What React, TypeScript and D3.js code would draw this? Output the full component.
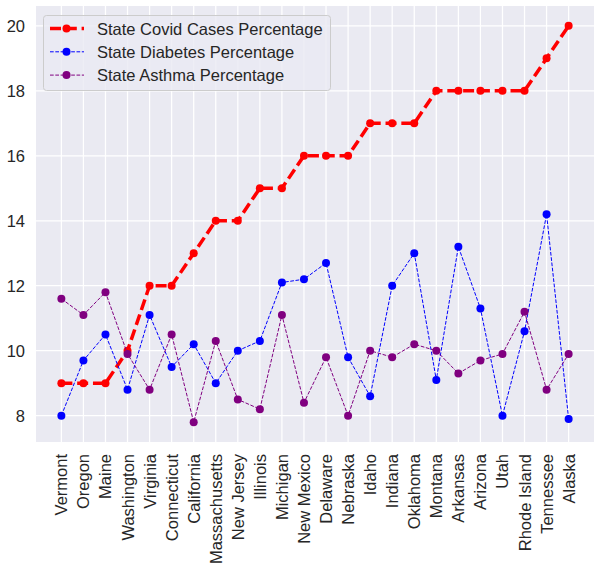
import React, { useEffect, useRef } from "react";
import * as d3 from "d3";

const states = [
  "Vermont", "Oregon", "Maine", "Washington", "Virginia", "Connecticut",
  "California", "Massachusetts", "New Jersey", "Illinois", "Michigan",
  "New Mexico", "Delaware", "Nebraska", "Idaho", "Indiana", "Oklahoma",
  "Montana", "Arkansas", "Arizona", "Utah", "Rhode Island", "Tennessee", "Alaska",
];

const covid = [9, 9, 9, 10, 12, 12, 13, 14, 14, 15, 15, 16, 16, 16, 17, 17, 17, 18, 18, 18, 18, 18, 19, 20];
const diabetes = [8.0, 9.7, 10.5, 8.8, 11.1, 9.5, 10.2, 9.0, 10.0, 10.3, 12.1, 12.2, 12.7, 9.8, 8.6, 12.0, 13.0, 9.1, 13.2, 11.3, 8.0, 10.6, 14.2, 7.9];
const asthma = [11.6, 11.1, 11.8, 9.9, 8.8, 10.5, 7.8, 10.3, 8.5, 8.2, 11.1, 8.4, 9.8, 8.0, 10.0, 9.8, 10.2, 10.0, 9.3, 9.7, 9.9, 11.2, 8.8, 9.9];

const yTicks = [8, 10, 12, 14, 16, 18, 20];

const seriesList = [
  { name: "State Covid Cases Percentage", values: covid, color: "#ff0000", width: 3.5, dash: "11,4.8" },
  { name: "State Diabetes Percentage", values: diabetes, color: "#0000ff", width: 1, dash: "3.7,1.6" },
  { name: "State Asthma Percentage", values: asthma, color: "#800080", width: 1, dash: "3.7,1.6" },
];

const App = () => {
  const ref = useRef<SVGSVGElement>(null);

  useEffect(() => {
    const width = 600;
    const height = 582;
    const left = 36, right = 594, top = 6, bottom = 442;
    const font = "'Liberation Sans', Arial, sans-serif";
    const textColor = "#262626";

    const svg = d3.select(ref.current);
    svg.selectAll("*").remove();
    svg.attr("width", width).attr("height", height);

    const n = states.length;
    const pad = (n - 1) * 0.05;
    const x = d3.scaleLinear().domain([-pad, n - 1 + pad]).range([left, right]);
    const dataMin = d3.min([...covid, ...diabetes, ...asthma]) as number;
    const dataMax = d3.max([...covid, ...diabetes, ...asthma]) as number;
    const ypad = (dataMax - dataMin) * 0.05;
    const y = d3.scaleLinear().domain([dataMin - ypad, dataMax + ypad]).range([bottom, top]);

    svg.append("rect")
      .attr("x", left).attr("y", top)
      .attr("width", right - left).attr("height", bottom - top)
      .attr("fill", "#eaeaf2");

    // grid
    const grid = svg.append("g").attr("stroke", "#fff").attr("stroke-width", 1.25);
    grid.selectAll("line.v").data(states).enter().append("line")
      .attr("x1", (_, i) => x(i)).attr("x2", (_, i) => x(i))
      .attr("y1", top).attr("y2", bottom);
    grid.selectAll("line.h").data(yTicks).enter().append("line")
      .attr("x1", left).attr("x2", right)
      .attr("y1", (d) => y(d)).attr("y2", (d) => y(d));

    // y tick labels
    svg.append("g").selectAll("text").data(yTicks).enter().append("text")
      .attr("x", left - 11).attr("y", (d) => y(d))
      .attr("text-anchor", "end").attr("dominant-baseline", "central")
      .attr("font-family", font).attr("font-size", 16.5).attr("fill", textColor)
      .text((d) => d);

    // x tick labels
    svg.append("g").selectAll("text").data(states).enter().append("text")
      .attr("transform", (_, i) => `translate(${x(i)},${bottom + 12}) rotate(-90)`)
      .attr("text-anchor", "end").attr("dominant-baseline", "central")
      .attr("font-family", font).attr("font-size", 16.5).attr("fill", textColor)
      .text((d) => d);

    // series
    const line = d3.line<number>().x((_, i) => x(i)).y((d) => y(d));
    seriesList.forEach((s) => {
      const g = svg.append("g");
      g.append("path").datum(s.values)
        .attr("d", line).attr("fill", "none")
        .attr("stroke", s.color).attr("stroke-width", s.width)
        .attr("stroke-dasharray", s.dash);
      g.selectAll("circle").data(s.values).enter().append("circle")
        .attr("cx", (_, i) => x(i)).attr("cy", (d) => y(d))
        .attr("r", 4).attr("fill", s.color);
    });

    // legend
    const lg = svg.append("g");
    lg.append("rect")
      .attr("x", 43.5).attr("y", 15.5).attr("width", 287).attr("height", 75).attr("rx", 3)
      .attr("fill", "#eaeaf2").attr("fill-opacity", 0.8)
      .attr("stroke", "#cccccc").attr("stroke-width", 1);
    seriesList.forEach((s, i) => {
      const cy = 28.5 + i * 23.3;
      lg.append("line")
        .attr("x1", 50).attr("x2", 84).attr("y1", cy).attr("y2", cy)
        .attr("stroke", s.color).attr("stroke-width", s.width)
        .attr("stroke-dasharray", s.dash);
      lg.append("circle").attr("cx", 66.5).attr("cy", cy).attr("r", 4).attr("fill", s.color);
      lg.append("text")
        .attr("x", 97).attr("y", cy).attr("dominant-baseline", "central")
        .attr("font-family", font).attr("font-size", 16.5).attr("fill", textColor)
        .text(s.name);
    });
  }, []);

  return (
    <div style={{ position: "absolute", left: 0, top: 0 }}>
      <svg ref={ref} style={{ display: "block" }} />
    </div>
  );
};

export default App;
